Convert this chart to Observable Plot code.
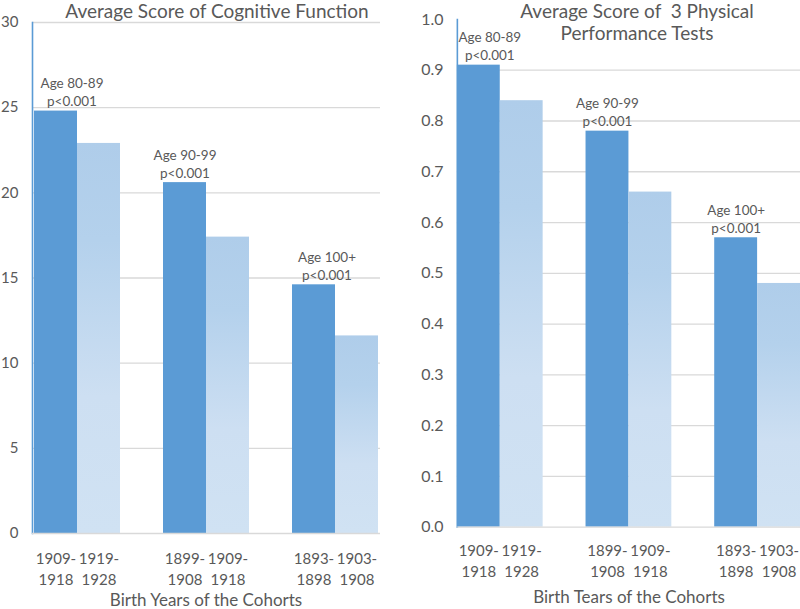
<!DOCTYPE html>
<html>
<head>
<meta charset="utf-8">
<script src="https://cdn.jsdelivr.net/npm/d3@7"></script>
<script src="https://cdn.jsdelivr.net/npm/@observablehq/plot@0.6"></script>
<style>
html, body { margin: 0; padding: 0; background: #fff; }
#page { position: relative; width: 800px; height: 609px; overflow: hidden; font-family: Lato, "Open Sans", sans-serif; color: #595959; }
.chart { position: absolute; top: 0; }
.title { position: absolute; font-size: 19px; line-height: 22px; text-align: center; white-space: nowrap; transform: translateX(-50%); }
.xtitle { position: absolute; font-size: 17px; line-height: 18px; text-align: center; white-space: nowrap; transform: translateX(-50%); }
</style>
</head>
<body>
<svg width="0" height="0" style="position:absolute">
  <defs>
    <linearGradient id="lightGrad" x1="0" y1="0" x2="0" y2="1">
      <stop offset="0" stop-color="#afcdea"/>
      <stop offset="0.25" stop-color="#b4d1ec"/>
      <stop offset="0.65" stop-color="#cddff2"/>
      <stop offset="1" stop-color="#d0e2f3"/>
    </linearGradient>
  </defs>
</svg>
<div id="page">
  <div id="left" class="chart" style="left:0px"></div>
  <div id="right" class="chart" style="left:400px"></div>
  <div class="title" style="left:217px; top:0px;">Average Score of Cognitive Function</div>
  <div class="title" style="left:637px; top:0px;">Average Score of&nbsp; 3 Physical<br>Performance Tests</div>
  <div class="xtitle" style="left:206px; top:591px;">Birth Years of the Cohorts</div>
  <div class="xtitle" style="left:629px; top:588px;">Birth Tears of the Cohorts</div>
</div>
<script>
// ---- data ----
const groups = ["Age 80-89", "Age 90-99", "Age 100+"];
const pValues = ["p<0.001", "p<0.001", "p<0.001"];
const slots = ["earlier", "later"];
const earlierCohorts = ["1909-1918", "1899-1908", "1893-1898"];
const laterCohorts = ["1919-1928", "1909-1918", "1903-1908"];
const cognitiveEarlier = [24.8, 20.6, 14.6];
const cognitiveLater = [22.9, 17.4, 11.6];
const physicalEarlier = [0.91, 0.78, 0.57];
const physicalLater = [0.84, 0.66, 0.48];
const cognitiveTicks = [0, 5, 10, 15, 20, 25, 30];
const cognitiveGrid = [5, 10, 15, 20, 25, 30];
const physicalTicks = [0, 0.1, 0.2, 0.3, 0.4, 0.5, 0.6, 0.7, 0.8, 0.9, 1.0];
const physicalGrid = [0.1, 0.2, 0.3, 0.4, 0.5, 0.6, 0.7, 0.8, 0.9];

const DARK = "#5b9bd5";
const GRID = "#d9d9d9";
const TEXT = "#595959";
const FONT = "Lato, 'Open Sans', sans-serif";

// band domain: two bars per age group, with an empty band-sized gap between groups
const xDomain = groups.flatMap((g, i) => [
  ...slots.map(s => g + "|" + s),
  ...(i < groups.length - 1 ? ["gap" + i] : [])
]);

function buildRows(earlier, later) {
  const rows = [];
  groups.forEach((g, i) => {
    rows.push({group: g, p: pValues[i], slot: "earlier", key: g + "|earlier", cohort: earlierCohorts[i], value: earlier[i]});
    rows.push({group: g, p: pValues[i], slot: "later", key: g + "|later", cohort: laterCohorts[i], value: later[i]});
  });
  return rows;
}

function makeChart({rows, yDomain, ticks, grid, tickFormat, width, height, marginTop, marginBottom, marginLeft, marginRight, tickPadding, tickFontSize, labelDy, labelShift}) {
  const earlierRows = rows.filter(d => d.slot === "earlier");
  return Plot.plot({
    width, height, marginTop, marginBottom, marginLeft, marginRight,
    style: {fontFamily: FONT, fontSize: "15px", color: TEXT, background: "transparent", overflow: "visible"},
    x: {domain: xDomain, padding: 0, axis: null},
    y: {domain: yDomain, axis: null},
    marks: [
      Plot.ruleY(grid, {stroke: GRID, strokeWidth: 1.3}),
      Plot.axisY({ticks, tickSize: 0, tickPadding, label: null, tickFormat, fill: TEXT, fontSize: tickFontSize}),
      Plot.frame({anchor: "left", stroke: DARK, strokeWidth: 1.6}),
      Plot.barY(earlierRows, {x: "key", y: "value", fill: DARK}),
      Plot.barY(rows.filter(d => d.slot === "later"), {x: "key", y: "value", fill: "url(#lightGrad)"}),
      Plot.ruleY([yDomain[0]], {stroke: GRID, strokeWidth: 1.3}),
      ...earlierRows.map((r, i) => Plot.text([r], {
        x: "key", y: "value",
        text: d => d.group + "\n" + d.p,
        lineAnchor: "bottom", dy: -5, dx: labelShift[i], fontSize: 13.5, lineHeight: 1.33, fill: TEXT
      })),
      Plot.text(rows, {
        x: "key",
        text: d => d.cohort.replace("-", "-\n"),
        frameAnchor: "bottom", lineAnchor: "top", dy: labelDy, lineHeight: 1.4, fontSize: 15, fill: TEXT
      })
    ]
  });
}

document.getElementById("left").append(makeChart({
  rows: buildRows(cognitiveEarlier, cognitiveLater),
  yDomain: [0, 30], ticks: cognitiveTicks, grid: cognitiveGrid, tickFormat: d => String(d),
  width: 400, height: 609, marginTop: 22, marginBottom: 76, marginLeft: 32, marginRight: 20,
  tickPadding: 14, tickFontSize: 15, labelDy: 16, labelShift: [16, 0, 13]
}));

document.getElementById("right").append(makeChart({
  rows: buildRows(physicalEarlier, physicalLater),
  yDomain: [0, 1], ticks: physicalTicks, grid: physicalGrid, tickFormat: d3.format(".1f"),
  width: 401, height: 609, marginTop: 19, marginBottom: 81, marginLeft: 57, marginRight: 0,
  tickPadding: 14, tickFontSize: 16, labelDy: 14, labelShift: [11, 0, 0]
}));
</script>
</body>
</html>
